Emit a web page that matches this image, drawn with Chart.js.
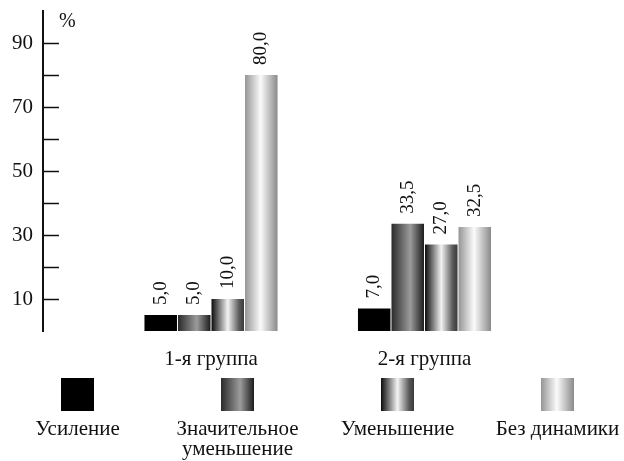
<!DOCTYPE html>
<html>
<head>
<meta charset="utf-8">
<script src="https://cdn.jsdelivr.net/npm/chart.js@4/dist/chart.umd.min.js"></script>
<style>
  html, body { margin: 0; padding: 0; background: #fff; }
  canvas { display: block; }
</style>
</head>
<body>
<canvas id="chart" width="624" height="461"></canvas>
<script>
// Groups and their positions on the x axis
const groups = ['1-я группа', '2-я группа'];
const groupPositions = [1, 2];

// Series names (multi-line names are split into lines)
const seriesNames = ['Усиление', ['Значительное', 'уменьшение'], 'Уменьшение', 'Без динамики'];

// Percent values per group
const increase       = [5.0, 7.0];
const strongDecrease = [5.0, 33.5];
const decrease       = [10.0, 27.0];
const noChange       = [80.0, 32.5];

// Labelled y ticks (every other tick mark carries a number)
const yTickLabels = [10, 30, 50, 70, 90];

const seriesValues = [increase, strongDecrease, decrease, noChange];

// Horizontal metallic shading for each series
const shading = [
  [[0, '#000000'], [1, '#000000']],
  [[0, '#2a2a2a'], [0.58, '#9c9c9c'], [1, '#1c1c1c']],
  [[0, '#0c0c0c'], [0.5, '#f3f3f3'], [0.85, '#5a5a5a'], [1, '#3a3a3a']],
  [[0, '#959595'], [0.48, '#fbfbfb'], [1, '#8a8a8a']]
];

const FONT = '"Liberation Serif", "Times New Roman", serif';
const fmt = v => v.toFixed(1).replace('.', ',');

function hGradient(ctx, x0, x1, stops) {
  const g = ctx.createLinearGradient(x0, 0, x1, 0);
  stops.forEach(([o, c]) => g.addColorStop(o, c));
  return g;
}

// Paints every bar with its series shading, spread over the bar's own width
const shadePlugin = {
  id: 'shade',
  beforeDatasetsDraw(chart) {
    const ctx = chart.ctx;
    chart.data.datasets.forEach((ds, i) => {
      chart.getDatasetMeta(i).data.forEach(bar => {
        const { x, width } = bar.getProps(['x', 'width'], true);
        bar.options = Object.assign({}, bar.options, {
          backgroundColor: hGradient(ctx, x - width / 2, x + width / 2, shading[i])
        });
      });
    });
  }
};

// Rotated value labels above the bars
const valueLabels = {
  id: 'valueLabels',
  afterDatasetsDraw(chart) {
    const ctx = chart.ctx;
    ctx.save();
    ctx.font = '19px ' + FONT;
    ctx.fillStyle = '#111';
    ctx.textAlign = 'left';
    ctx.textBaseline = 'middle';
    chart.data.datasets.forEach((ds, i) => {
      chart.getDatasetMeta(i).data.forEach((bar, j) => {
        const { x, y } = bar.getProps(['x', 'y'], true);
        ctx.save();
        ctx.translate(x, y - 10);
        ctx.rotate(-Math.PI / 2);
        ctx.fillText(fmt(ds.data[j].y), 0, 0);
        ctx.restore();
      });
    });
    ctx.restore();
  }
};

// Inward tick marks, the unit sign and the legend under the chart
const decorations = {
  id: 'decorations',
  afterDraw(chart) {
    const ctx = chart.ctx;
    const ys = chart.scales.y;
    const left = chart.chartArea.left;
    ctx.save();
    ctx.strokeStyle = '#111';
    ctx.lineWidth = 1.5;
    ys.ticks.forEach(t => {
      if (t.value <= ys.min || t.value >= ys.max) return;
      const py = Math.round(ys.getPixelForValue(t.value)) + 0.5;
      ctx.beginPath();
      ctx.moveTo(left, py);
      ctx.lineTo(left + 16, py);
      ctx.stroke();
    });

    ctx.fillStyle = '#111';
    ctx.font = '20px ' + FONT;
    ctx.textAlign = 'left';
    ctx.textBaseline = 'alphabetic';
    ctx.fillText('%', left + 16, chart.chartArea.top + 16);

    // legend: shaded square with the series name centred below it
    const H = chart.height;
    const size = 33;
    ctx.font = '21px ' + FONT;
    ctx.textAlign = 'center';
    chart.data.datasets.forEach((ds, i) => {
      const cx = 77.5 + 160 * i;
      const x0 = cx - size / 2;
      const top = H - 83;
      ctx.fillStyle = hGradient(ctx, x0, x0 + size, shading[i]);
      ctx.fillRect(x0, top, size, size);
      ctx.fillStyle = '#111';
      const lines = Array.isArray(ds.label) ? ds.label : [ds.label];
      lines.forEach((line, k) => ctx.fillText(line, cx, H - 26 + k * 20));
    });
    ctx.restore();
  }
};

new Chart(document.getElementById('chart'), {
  type: 'bar',
  data: {
    datasets: seriesValues.map((vals, i) => ({
      label: seriesNames[i],
      data: groupPositions.map((x, j) => ({ x, y: vals[j] })),
      backgroundColor: '#000',
      borderWidth: 0,
      categoryPercentage: 0.628,
      barPercentage: 0.97
    }))
  },
  options: {
    responsive: false,
    animation: false,
    events: [],
    layout: { padding: { top: 11, right: 24, bottom: 80, left: 0 } },
    plugins: { legend: { display: false }, tooltip: { enabled: false } },
    scales: {
      x: {
        type: 'linear',
        offset: false,
        bounds: 'data',
        min: 0.21311,
        max: 2.82201,
        grid: { display: false, offset: false },
        border: { display: false },
        afterBuildTicks: s => { s.ticks = groupPositions.map(v => ({ value: v })); },
        afterFit: s => { s.height = 50; s.paddingLeft = 0; s.paddingRight = 0; },
        ticks: {
          padding: 8,
          color: '#111',
          font: { family: FONT, size: 21 },
          maxRotation: 0,
          autoSkip: false,
          callback: v => groups[groupPositions.indexOf(v)]
        }
      },
      y: {
        min: 0,
        max: 100,
        grid: { display: false, drawTicks: false },
        border: { display: true, color: '#111', width: 2 },
        afterFit: s => { s.width = 43; s.paddingTop = 0; s.paddingBottom = 0; },
        ticks: {
          stepSize: 10,
          padding: 10,
          color: '#111',
          font: { family: FONT, size: 21 },
          callback: v => (yTickLabels.includes(v) ? String(v) : '')
        }
      }
    }
  },
  plugins: [shadePlugin, valueLabels, decorations]
});
</script>
</body>
</html>
